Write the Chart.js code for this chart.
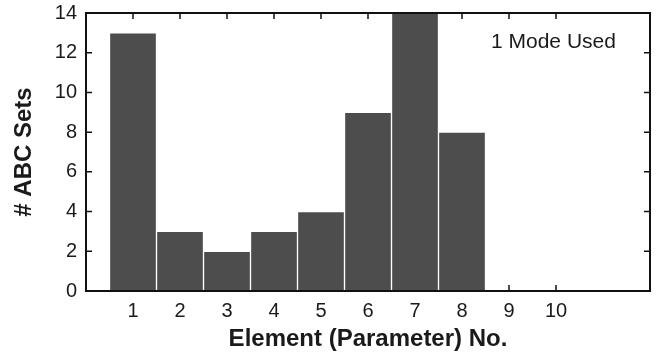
<!DOCTYPE html>
<html>
<head>
<meta charset="utf-8">
<script src="https://cdn.jsdelivr.net/npm/chart.js@4.4.1/dist/chart.umd.min.js"></script>
<style>
  html, body { margin: 0; padding: 0; background: #ffffff; }
  #wrap { width: 656px; height: 354px; }
</style>
</head>
<body>
<div id="wrap"><canvas id="setsChart" width="656" height="354"></canvas></div>
<script>
// element numbers on the x axis and how many ABC sets hit each one
const elements = [1, 2, 3, 4, 5, 6, 7, 8, 9, 10];
const abcSets = [13, 3, 2, 3, 4, 9, 14, 8, 0, 0];
const yTicks = [0, 2, 4, 6, 8, 10, 12, 14];

const X_MIN = 0, X_MAX = 12;
const INK = '#1a1a1a';
const FONT = "'Liberation Sans', Arial, Helvetica, sans-serif";

// frame + inward tick marks on all four sides, like the old plotting style
const frameTicks = {
  id: 'frameTicks',
  beforeDatasetsDraw(chart) {
    const { ctx, chartArea: a, scales } = chart;
    const len = 6;
    ctx.save();
    ctx.strokeStyle = '#111';
    ctx.lineWidth = 1.5;
    ctx.beginPath();
    scales.x.ticks.forEach(t => {
      const px = scales.x.getPixelForValue(t.value);
      ctx.moveTo(px, a.bottom); ctx.lineTo(px, a.bottom - len);
      ctx.moveTo(px, a.top); ctx.lineTo(px, a.top + len);
    });
    scales.y.ticks.forEach(t => {
      const py = scales.y.getPixelForValue(t.value);
      ctx.moveTo(a.left, py); ctx.lineTo(a.left + len, py);
      ctx.moveTo(a.right, py); ctx.lineTo(a.right - len, py);
    });
    ctx.stroke();
    ctx.restore();
  },
  afterDatasetsDraw(chart) {
    const { ctx, chartArea: a } = chart;
    ctx.save();
    ctx.strokeStyle = '#111';
    ctx.lineWidth = 2;
    ctx.strokeRect(a.left, a.top, a.right - a.left, a.bottom - a.top);

    ctx.fillStyle = INK;
    ctx.font = `21px ${FONT}`;
    ctx.textAlign = 'left';
    ctx.textBaseline = 'middle';
    ctx.fillText('1 Mode Used', a.right - 159, a.top + 29);
    ctx.restore();
  }
};

const points = elements
  .map((el, i) => ({ x: el, y: abcSets[i] }))
  .filter(p => p.y > 0);

new Chart(document.getElementById('setsChart').getContext('2d'), {
  type: 'bar',
  data: {
    datasets: [{
      label: '# ABC Sets',
      data: points,
      backgroundColor: '#4d4d4d',
      borderColor: '#ffffff',
      borderWidth: 1,
      borderSkipped: 'start',
      barPercentage: 1,
      categoryPercentage: 1
    }]
  },
  options: {
    responsive: false,
    animation: false,
    layout: { padding: { left: 6, right: 6, top: 13, bottom: 0 } },
    plugins: {
      legend: { display: false },
      tooltip: { enabled: false }
    },
    scales: {
      x: {
        type: 'linear',
        min: X_MIN,
        max: X_MAX,
        offset: false,
        afterBuildTicks: scale => { scale.ticks = elements.map(v => ({ value: v })); },
        afterFit: scale => { scale.height = 63; },
        grid: { display: false, drawTicks: false, offset: false },
        border: { display: false },
        ticks: {
          color: INK,
          padding: 8,
          maxRotation: 0,
          autoSkip: false,
          font: { family: FONT, size: 20 },
          callback: v => String(v)
        },
        title: {
          display: true,
          text: 'Element (Parameter) No.',
          color: INK,
          padding: { top: 0, bottom: 0 },
          font: { family: FONT, size: 24, weight: 'bold' }
        }
      },
      y: {
        min: 0,
        max: 14,
        afterBuildTicks: scale => { scale.ticks = yTicks.map(v => ({ value: v })); },
        afterFit: scale => {
          scale.width = 80;
          scale.paddingTop = 0;
          scale.paddingBottom = 0;
        },
        grid: { display: false, drawTicks: false },
        border: { display: false },
        ticks: {
          color: INK,
          padding: 9,
          font: { family: FONT, size: 20 }
        },
        title: {
          display: true,
          text: '# ABC Sets',
          color: INK,
          padding: { top: 4, bottom: 0 },
          font: { family: FONT, size: 24, weight: 'bold' }
        }
      }
    }
  },
  plugins: [frameTicks]
});
</script>
</body>
</html>
